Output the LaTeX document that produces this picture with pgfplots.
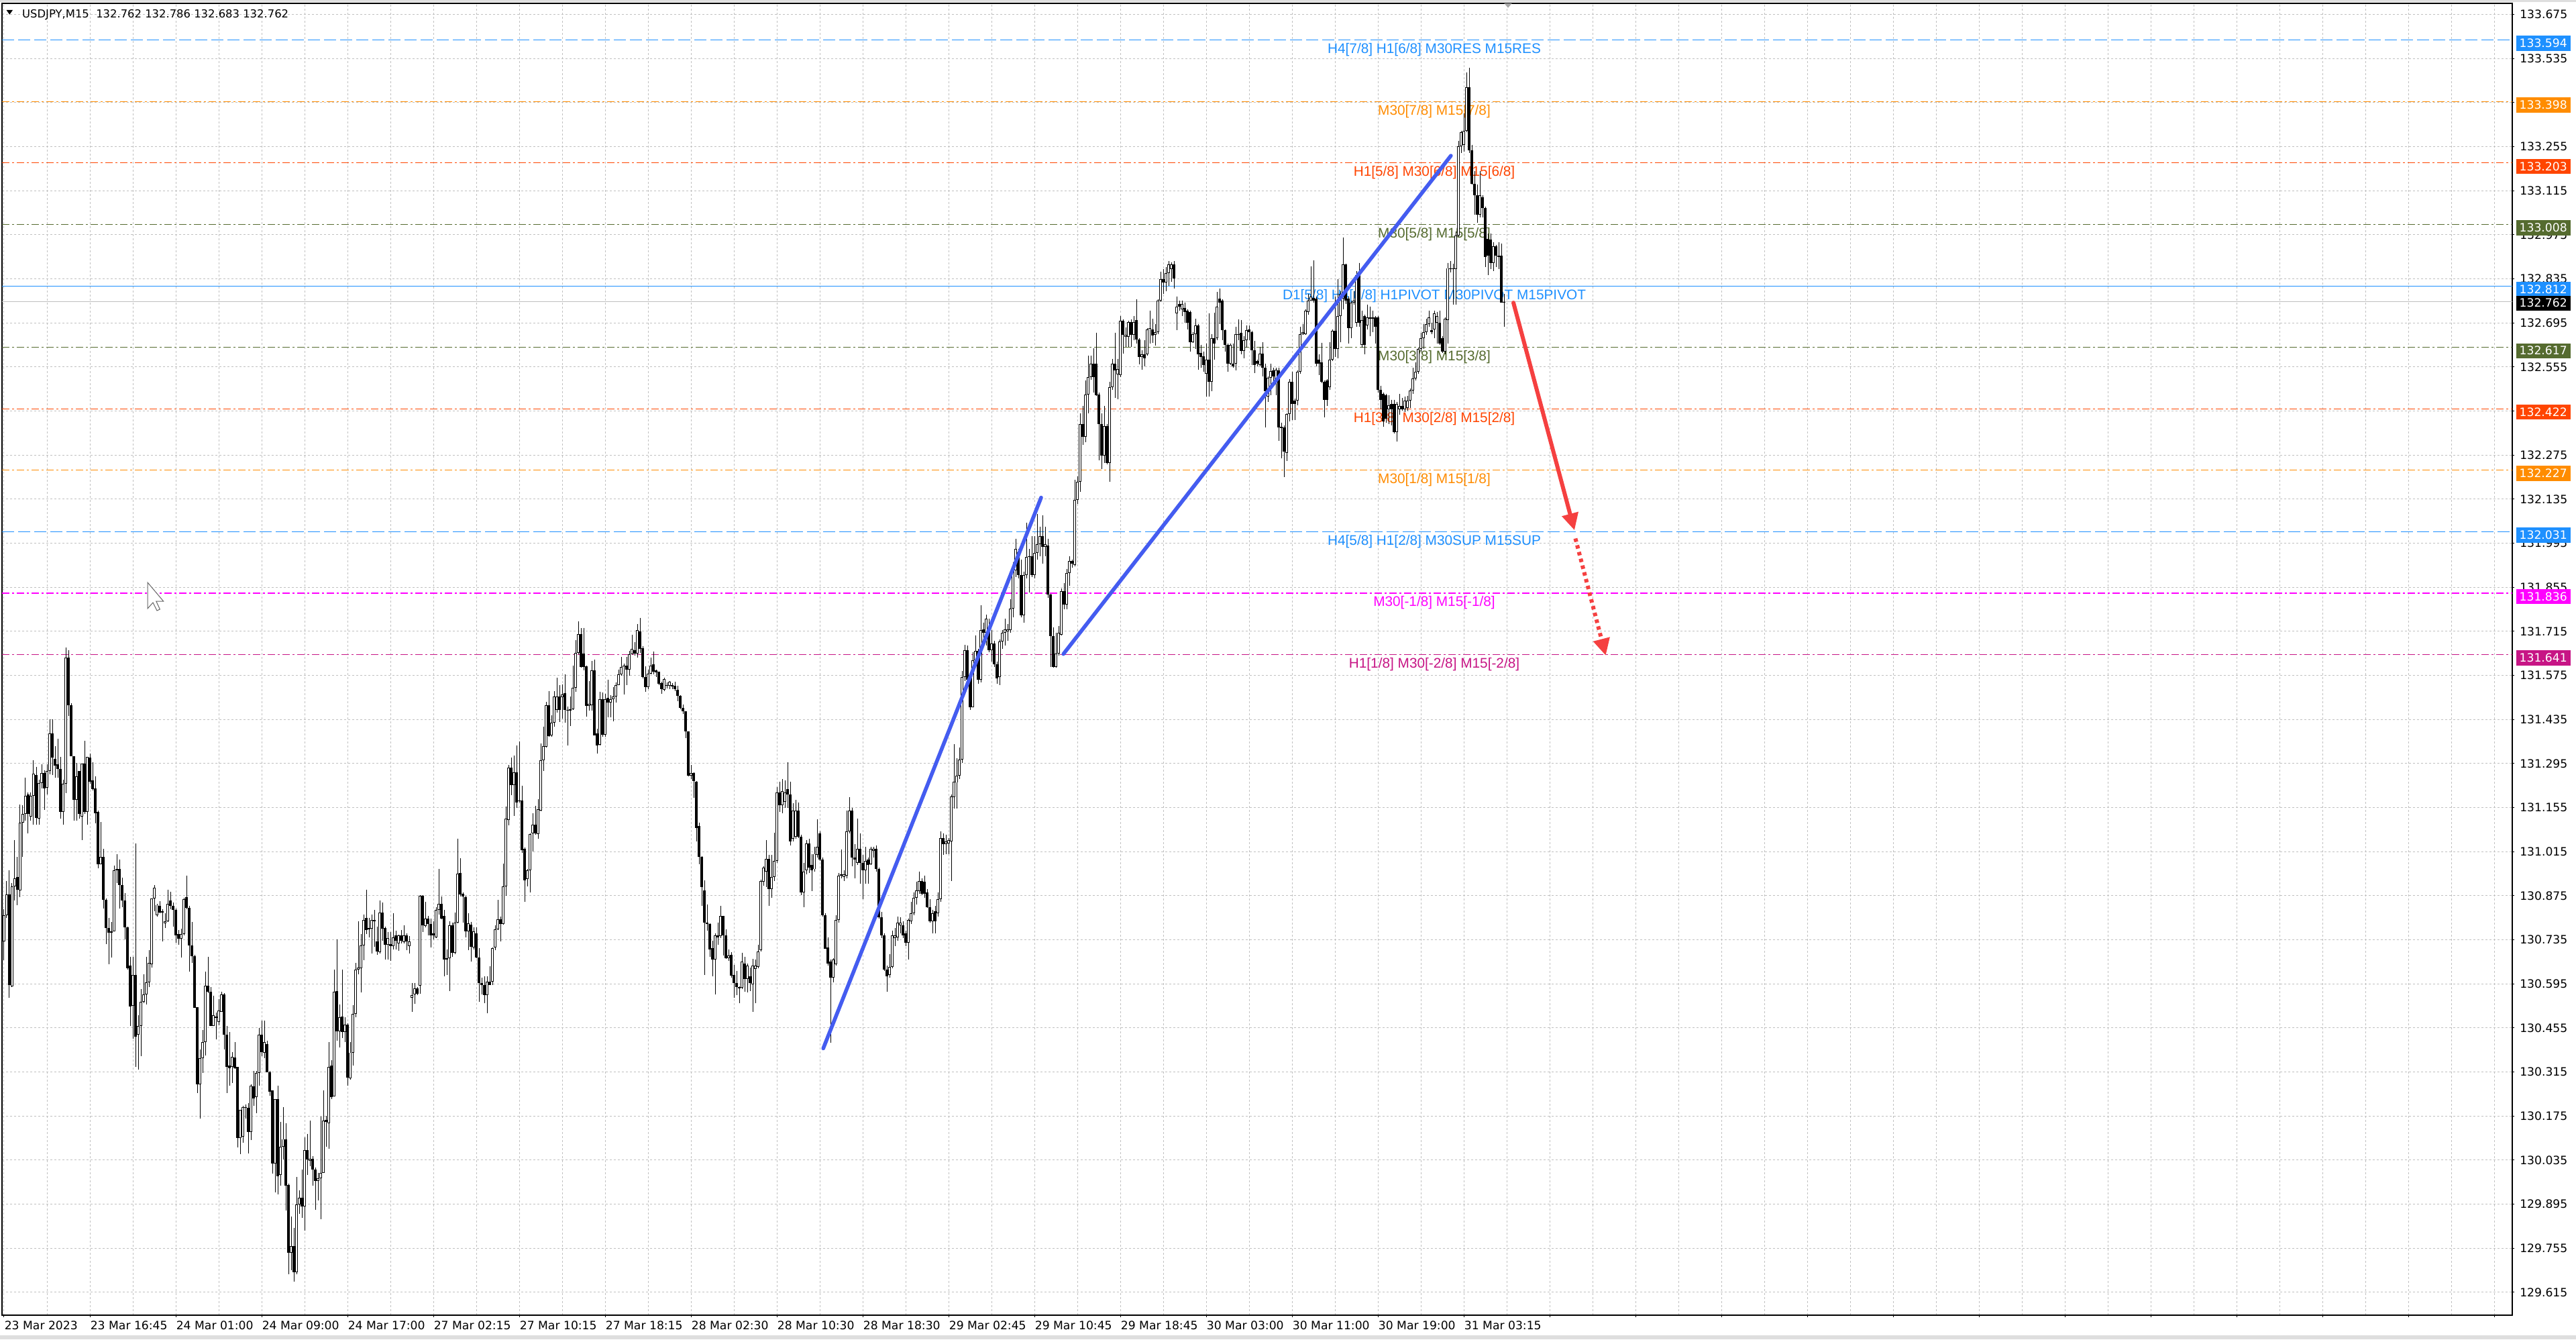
\documentclass[border=0pt]{standalone}
\usepackage{fontspec}
\usepackage{pgfplots}
\usepackage{pgfplotstable}
\pgfplotsset{compat=1.18}
\usetikzlibrary{arrows.meta}
\newfontfamily\dejavu{DejaVu Sans}
\newfontfamily\libsans{Liberation Sans}
\newcommand\tickf{\dejavu\fontsize{4.3}{5}\selectfont}
\newcommand\hdrf{\dejavu\fontsize{4.1}{5}\selectfont}
\newcommand\lvlf{\libsans\fontsize{5.2}{6}\selectfont}
\definecolor{dblue}{RGB}{30,144,255}
\definecolor{dorange}{RGB}{255,140,0}
\definecolor{ored}{RGB}{255,69,0}
\definecolor{lolive}{RGB}{85,107,47}
\definecolor{magen}{RGB}{255,0,255}
\definecolor{mvred}{RGB}{199,21,133}
\definecolor{gridgray}{RGB}{192,192,192}
\definecolor{trendblue}{RGB}{68,92,240}
\definecolor{arrowred}{RGB}{245,64,64}
\definecolor{bandgray}{RGB}{222,222,222}

\pgfplotstableread{
x o h l c
0 130.729 130.832 130.670 130.812
1 130.812 130.921 130.805 130.880
2 130.880 130.956 130.551 130.592
3 130.588 130.915 130.585 130.905
4 130.905 131.052 130.860 130.931
5 130.934 130.998 130.846 130.894
6 130.891 131.164 130.871 131.107
7 131.107 131.162 130.998 131.134
8 131.134 131.251 131.114 131.193
9 131.196 131.203 131.072 131.134
10 131.127 131.203 131.114 131.192
11 131.193 131.306 131.100 131.262
12 131.258 131.285 131.100 131.123
13 131.120 131.244 131.100 131.233
14 131.233 131.292 131.216 131.265
15 131.265 131.274 131.148 131.216
16 131.219 131.292 131.196 131.271
17 131.271 131.436 131.260 131.391
18 131.391 131.436 131.258 131.313
19 131.310 131.350 131.251 131.289
20 131.292 131.374 131.251 131.278
21 131.278 131.315 131.120 131.141
22 131.141 131.244 131.100 131.230
23 131.230 131.663 131.200 131.631
24 131.631 131.656 131.447 131.480
25 131.480 131.487 131.319 131.319
26 131.319 131.319 131.114 131.179
27 131.179 131.296 131.114 131.255
28 131.271 131.271 131.120 131.134
29 131.127 131.295 131.052 131.295
30 131.295 131.367 131.134 131.141
31 131.141 131.315 131.100 131.315
32 131.313 131.326 131.230 131.237
33 131.241 131.299 131.210 131.214
34 131.216 131.255 131.104 131.138
35 131.141 131.145 130.963 130.976
36 130.976 131.109 130.975 130.998
37 130.998 131.024 130.835 130.862
38 130.862 130.867 130.722 130.773
39 130.773 130.805 130.657 130.758
40 130.757 130.791 130.678 130.761
41 130.761 130.970 130.761 130.956
42 130.959 131.007 130.915 130.956
43 130.959 130.990 130.835 130.909
44 130.909 130.932 130.839 130.860
45 130.860 130.884 130.736 130.775
46 130.775 130.777 130.640 130.644
47 130.654 130.681 130.462 130.523
48 130.526 130.681 130.420 130.624
49 130.624 131.041 130.331 130.427
50 130.434 130.496 130.322 130.462
51 130.462 130.578 130.366 130.537
52 130.537 130.626 130.533 130.561
53 130.561 130.681 130.530 130.599
54 130.599 130.702 130.585 130.661
55 130.658 130.867 130.647 130.867
56 130.867 130.908 130.825 130.901
57 130.812 130.849 130.808 130.846
58 130.843 130.857 130.819 130.821
59 130.825 130.832 130.729 130.821
60 130.788 130.819 130.773 130.794
61 130.794 130.894 130.791 130.849
62 130.860 130.887 130.832 130.843
63 130.843 130.853 130.777 130.830
64 130.830 130.835 130.725 130.750
65 130.753 130.766 130.720 130.739
66 130.739 130.770 130.678 130.753
67 130.753 130.869 130.750 130.864
68 130.871 130.939 130.832 130.836
69 130.836 130.843 130.633 130.716
70 130.716 130.791 130.661 130.684
71 130.684 130.688 130.519 130.519
72 130.521 130.521 130.249 130.276
73 130.276 130.386 130.167 130.359
74 130.359 130.448 130.311 130.410
75 130.410 130.633 130.368 130.589
76 130.589 130.681 130.565 130.569
77 130.569 130.585 130.462 130.462
78 130.462 130.558 130.462 130.496
79 130.492 130.503 130.418 130.486
80 130.475 130.547 130.464 130.510
81 130.507 130.569 130.506 130.561
82 130.561 130.565 130.386 130.434
83 130.434 130.462 130.249 130.331
84 130.335 130.441 130.272 130.327
85 130.331 130.379 130.280 130.363
86 130.361 130.410 130.324 130.327
87 130.331 130.331 130.075 130.105
88 130.105 130.194 130.054 130.194
89 130.110 130.208 130.091 130.204
90 130.201 130.212 130.167 130.204
91 130.201 130.217 130.057 130.125
92 130.125 130.276 130.098 130.272
93 130.270 130.318 130.208 130.231
94 130.235 130.318 130.185 130.311
95 130.311 130.455 130.272 130.434
96 130.434 130.478 130.366 130.379
97 130.377 130.478 130.359 130.410
98 130.404 130.414 130.315 130.315
99 130.315 130.318 130.239 130.253
100 130.256 130.256 129.992 130.025
101 130.025 130.228 129.933 130.228
102 130.228 130.272 129.926 129.984
103 129.988 130.157 129.954 130.078
104 130.078 130.204 130.036 130.102
105 130.102 130.153 129.874 129.954
106 129.957 129.961 129.673 129.741
107 129.741 129.855 129.686 129.762
108 129.762 129.820 129.650 129.679
109 129.679 129.981 129.673 129.895
110 129.895 129.940 129.865 129.916
111 129.916 130.006 129.851 129.888
112 129.888 130.108 129.810 130.067
113 130.067 130.119 129.988 130.036
114 130.033 130.160 130.016 130.039
115 130.039 130.047 129.954 130.006
116 130.006 130.012 129.878 129.968
117 129.968 129.995 129.906 129.977
118 129.977 130.174 129.847 129.995
119 129.995 130.256 129.995 130.160
120 130.163 130.176 130.078 130.157
121 130.153 130.410 130.071 130.331
122 130.335 130.352 130.228 130.235
123 130.238 130.640 130.238 130.569
124 130.572 130.736 130.414 130.444
125 130.444 130.530 130.393 130.489
126 130.492 130.640 130.423 130.441
127 130.441 130.489 130.410 130.465
128 130.465 130.469 130.272 130.297
129 130.294 130.410 130.290 130.377
130 130.377 130.528 130.335 130.500
131 130.500 130.661 130.489 130.640
132 130.640 130.794 130.626 130.647
133 130.644 130.753 130.567 130.716
134 130.716 130.816 130.670 130.798
135 130.805 130.894 130.753 130.766
136 130.773 130.805 130.743 130.768
137 130.770 130.816 130.692 130.798
138 130.794 130.830 130.712 130.798
139 130.729 130.777 130.688 130.698
140 130.695 130.860 130.692 130.821
141 130.821 130.853 130.733 130.770
142 130.772 130.777 130.672 130.720
143 130.719 130.759 130.672 130.740
144 130.722 130.759 130.668 130.715
145 130.715 130.820 130.705 130.742
146 130.750 130.763 130.705 130.733
147 130.724 130.752 130.700 130.750
148 130.750 130.766 130.724 130.733
149 130.728 130.781 130.724 130.750
150 130.750 130.755 130.702 130.729
151 130.715 130.746 130.691 130.729
152 130.550 130.598 130.507 130.559
153 130.561 130.598 130.531 130.581
154 130.581 130.585 130.559 130.564
155 130.589 130.876 130.564 130.874
156 130.874 130.876 130.759 130.781
157 130.778 130.855 130.775 130.803
158 130.803 130.811 130.749 130.785
159 130.785 130.803 130.711 130.750
160 130.755 130.794 130.737 130.749
161 130.743 130.839 130.740 130.829
162 130.829 130.961 130.816 130.850
163 130.850 130.872 130.801 130.803
164 130.811 130.829 130.618 130.672
165 130.672 130.705 130.624 130.676
166 130.676 130.794 130.572 130.781
167 130.781 130.790 130.681 130.694
168 130.694 130.822 130.689 130.790
169 130.790 131.057 130.787 130.946
170 130.948 130.994 130.872 130.879
171 130.881 130.885 130.790 130.872
172 130.870 130.874 130.742 130.761
173 130.761 130.820 130.702 130.787
174 130.783 130.792 130.665 130.713
175 130.711 130.775 130.705 130.761
176 130.755 130.775 130.676 130.679
177 130.679 130.709 130.537 130.598
178 130.598 130.615 130.561 130.591
179 130.592 130.618 130.534 130.559
180 130.559 130.618 130.502 130.601
181 130.602 130.650 130.592 130.592
182 130.602 130.711 130.592 130.709
183 130.711 130.781 130.702 130.768
184 130.768 130.862 130.766 130.801
185 130.801 130.809 130.729 130.785
186 130.785 130.977 130.783 130.905
187 130.905 131.159 130.874 131.120
188 131.116 131.290 131.098 131.281
189 131.281 131.314 131.194 131.227
190 131.227 131.320 131.129 131.268
191 131.268 131.353 131.155 131.172
192 131.178 131.366 131.172 131.177
193 131.177 131.224 131.011 131.020
194 131.024 131.029 130.855 130.924
195 130.929 130.959 130.905 130.955
196 130.955 131.074 130.885 131.070
197 131.072 131.137 131.016 131.100
198 131.100 131.161 131.068 131.074
199 131.070 131.181 131.057 131.149
200 131.146 131.358 131.144 131.305
201 131.305 131.413 131.271 131.351
202 131.349 131.490 131.346 131.481
203 131.481 131.526 131.381 131.383
204 131.384 131.448 131.381 131.425
205 131.425 131.525 131.412 131.507
206 131.465 131.568 131.457 131.507
207 131.507 131.544 131.427 131.465
208 131.505 131.546 131.438 131.514
209 131.518 131.579 131.425 131.465
210 131.466 131.477 131.352 131.464
211 131.464 131.507 131.415 131.468
212 131.468 131.607 131.465 131.535
213 131.535 131.686 131.523 131.646
214 131.646 131.746 131.642 131.707
215 131.707 131.725 131.599 131.601
216 131.645 131.726 131.590 131.601
217 131.603 131.607 131.445 131.479
218 131.479 131.558 131.464 131.485
219 131.481 131.620 131.464 131.590
220 131.590 131.625 131.384 131.385
221 131.390 131.405 131.326 131.352
222 131.355 131.523 131.352 131.499
223 131.499 131.520 131.381 131.387
224 131.387 131.516 131.381 131.499
225 131.503 131.561 131.442 131.488
226 131.488 131.512 131.442 131.500
227 131.499 131.538 131.429 131.507
228 131.507 131.552 131.488 131.545
229 131.545 131.594 131.544 131.579
230 131.579 131.633 131.575 131.601
231 131.601 131.612 131.514 131.607
232 131.607 131.633 131.544 131.594
233 131.594 131.653 131.575 131.642
234 131.642 131.703 131.642 131.659
235 131.655 131.681 131.638 131.645
236 131.645 131.738 131.631 131.718
237 131.714 131.758 131.646 131.659
238 131.662 131.668 131.566 131.570
239 131.570 131.603 131.523 131.538
240 131.538 131.594 131.532 131.581
241 131.581 131.631 131.579 131.607
242 131.610 131.651 131.579 131.586
243 131.590 131.594 131.570 131.584
244 131.586 131.587 131.544 131.549
245 131.551 131.555 131.516 131.532
246 131.529 131.568 131.526 131.564
247 131.542 131.552 131.533 131.544
248 131.542 131.558 131.532 131.555
249 131.545 131.551 131.532 131.540
250 131.542 131.555 131.526 131.532
251 131.529 131.542 131.494 131.509
252 131.509 131.512 131.468 131.471
253 131.472 131.483 131.453 131.461
254 131.461 131.461 131.375 131.396
255 131.398 131.398 131.255 131.257
256 131.257 131.290 131.246 131.265
257 131.265 131.268 131.187 131.239
258 131.237 131.239 131.048 131.091
259 131.097 131.107 130.975 130.998
260 130.998 131.001 130.842 130.903
261 130.891 130.924 130.624 130.789
262 130.789 130.848 130.763 130.785
263 130.785 130.787 130.681 130.705
264 130.709 130.731 130.618 130.672
265 130.672 130.755 130.561 130.750
266 130.750 130.790 130.720 130.743
267 130.746 130.842 130.740 130.811
268 130.811 130.811 130.685 130.749
269 130.750 130.769 130.674 130.676
270 130.676 130.705 130.668 130.685
271 130.688 130.696 130.615 130.622
272 130.624 130.656 130.550 130.598
273 130.598 130.635 130.559 130.585
274 130.585 130.587 130.533 130.581
275 130.583 130.694 130.578 130.665
276 130.659 130.681 130.569 130.611
277 130.611 130.659 130.568 130.653
278 130.620 130.646 130.572 130.598
279 130.594 130.674 130.507 130.653
280 130.642 130.672 130.533 130.653
281 130.649 130.720 130.644 130.698
282 130.702 130.926 130.698 130.922
283 130.919 130.969 130.906 130.964
284 130.952 131.052 130.902 130.992
285 130.992 131.005 130.843 130.897
286 130.897 131.005 130.869 130.935
287 130.935 131.075 130.922 130.985
288 130.985 131.221 130.980 131.204
289 131.204 131.237 131.141 131.163
290 131.163 131.246 131.138 131.208
291 131.174 131.241 131.154 131.204
292 131.213 131.300 131.154 131.196
293 131.196 131.237 131.035 131.047
294 131.055 131.168 131.047 131.146
295 131.063 131.179 131.055 131.146
296 131.146 131.171 131.058 131.063
297 131.063 131.068 130.876 130.886
298 130.886 130.980 130.839 130.952
299 130.955 131.052 130.942 131.042
300 131.042 131.055 130.947 130.964
301 130.972 131.008 130.889 130.955
302 130.959 131.030 130.952 131.008
303 131.005 131.118 130.997 131.030
304 131.072 131.080 130.985 130.989
305 130.989 130.997 130.809 130.814
306 130.814 130.819 130.707 130.707
307 130.710 130.743 130.653 130.660
308 130.665 130.673 130.408 130.615
309 130.615 130.677 130.599 130.673
310 130.657 130.814 130.653 130.798
311 130.798 130.947 130.789 130.939
312 130.939 131.022 130.930 130.942
313 130.935 130.955 130.922 130.942
314 130.939 131.146 130.930 131.080
315 131.080 131.188 131.072 131.146
316 131.146 131.154 130.969 130.997
317 130.997 131.038 130.930 130.989
318 130.980 131.121 130.972 131.025
319 131.025 131.072 130.914 130.980
320 130.980 131.005 130.864 130.955
321 130.955 131.030 130.914 130.985
322 130.989 130.997 130.914 130.972
323 130.975 131.030 130.972 131.025
324 131.018 131.030 130.997 131.025
325 131.025 131.035 130.952 130.959
326 130.959 130.964 130.803 130.806
327 130.806 130.823 130.740 130.748
328 130.748 130.756 130.637 130.640
329 130.640 130.653 130.571 130.620
330 130.624 130.690 130.615 130.649
331 130.649 130.765 130.644 130.748
332 130.740 130.773 130.715 130.748
333 130.743 130.809 130.731 130.789
334 130.781 130.806 130.756 130.789
335 130.781 130.793 130.740 130.748
336 130.756 130.765 130.715 130.726
337 130.726 130.803 130.673 130.798
338 130.793 130.856 130.786 130.819
339 130.819 130.886 130.814 130.869
340 130.869 130.919 130.848 130.892
341 130.889 130.952 130.881 130.922
342 130.922 130.930 130.876 130.881
343 130.919 130.939 130.869 130.881
344 130.886 130.897 130.836 130.839
345 130.839 130.864 130.790 130.793
346 130.793 130.831 130.756 130.819
347 130.826 130.843 130.756 130.793
348 130.819 130.886 130.809 130.864
349 130.864 131.080 130.856 131.058
350 131.058 131.072 131.005 131.038
351 131.038 131.068 131.008 131.047
352 131.042 131.058 131.008 131.052
353 131.047 131.196 130.922 131.191
354 131.188 131.357 131.151 131.237
355 131.234 131.312 131.151 131.257
356 131.257 131.345 131.246 131.307
357 131.307 131.589 131.296 131.569
358 131.569 131.672 131.556 131.655
359 131.655 131.669 131.539 131.561
360 131.566 131.573 131.466 131.473
361 131.473 131.649 131.473 131.622
362 131.622 131.702 131.602 131.652
363 131.652 131.660 131.549 131.561
364 131.561 131.798 131.553 131.718
365 131.722 131.743 131.677 131.710
366 131.710 131.768 131.669 131.755
367 131.722 131.755 131.649 131.655
368 131.655 131.718 131.619 131.677
369 131.677 131.685 131.602 131.611
370 131.611 131.619 131.549 131.566
371 131.569 131.689 131.544 131.682
372 131.682 131.718 131.660 131.710
373 131.710 131.755 131.669 131.722
374 131.715 131.738 131.685 131.722
375 131.719 131.818 131.710 131.788
376 131.788 131.934 131.760 131.909
377 131.909 132.009 131.888 131.976
378 131.967 131.976 131.884 131.893
379 131.893 131.942 131.760 131.765
380 131.765 131.904 131.743 131.893
381 131.893 132.059 131.884 131.951
382 131.951 131.976 131.838 131.954
383 131.954 132.017 131.888 131.893
384 131.893 132.017 131.884 131.964
385 131.964 132.087 131.942 131.992
386 131.992 132.047 131.954 132.017
387 132.017 132.084 131.931 131.984
388 131.984 132.047 131.954 131.992
389 131.987 132.009 131.821 131.831
390 131.831 131.835 131.602 131.699
391 131.699 131.727 131.599 131.602
392 131.602 131.710 131.599 131.644
393 131.644 131.732 131.639 131.710
394 131.705 131.851 131.702 131.843
395 131.843 131.868 131.785 131.801
396 131.801 131.914 131.785 131.901
397 131.901 131.954 131.860 131.938
398 131.938 131.943 131.918 131.931
399 131.926 132.196 131.921 132.133
400 132.133 132.208 132.120 132.191
401 132.191 132.407 132.158 132.374
402 132.374 132.432 132.307 132.332
403 132.332 132.512 132.316 132.468
404 132.468 132.590 132.407 132.523
405 132.523 132.590 132.515 132.565
406 132.565 132.614 132.473 132.523
407 132.565 132.664 132.462 132.465
408 132.468 132.473 132.258 132.374
409 132.374 132.407 132.230 132.274
410 132.274 132.432 132.249 132.366
411 132.366 132.374 132.246 132.249
412 132.249 132.507 132.191 132.490
413 132.490 132.581 132.482 132.565
414 132.565 132.664 132.457 132.545
415 132.531 132.581 132.452 132.548
416 132.528 132.717 132.523 132.701
417 132.701 132.706 132.598 132.656
418 132.651 132.681 132.618 132.656
419 132.651 132.701 132.618 132.697
420 132.697 132.706 132.618 132.656
421 132.656 132.717 132.639 132.697
422 132.704 132.769 132.630 132.643
423 132.643 132.647 132.564 132.586
424 132.586 132.608 132.547 132.595
425 132.595 132.640 132.556 132.582
426 132.595 132.678 132.591 132.673
427 132.673 132.734 132.630 132.678
428 132.675 132.708 132.632 132.654
429 132.656 132.691 132.623 132.666
430 132.666 132.769 132.660 132.765
431 132.765 132.858 132.762 132.834
432 132.834 132.865 132.788 132.823
433 132.823 132.872 132.795 132.852
434 132.852 132.891 132.813 132.880
435 132.865 132.887 132.826 132.880
436 132.880 132.891 132.804 132.837
437 132.726 132.779 132.672 132.747
438 132.756 132.765 132.734 132.747
439 132.739 132.765 132.717 132.756
440 132.743 132.760 132.695 132.730
441 132.734 132.739 132.673 132.695
442 132.730 132.734 132.604 132.634
443 132.634 132.665 132.632 132.660
444 132.660 132.708 132.612 132.686
445 132.686 132.691 132.547 132.595
446 132.599 132.625 132.552 132.586
447 132.588 132.604 132.539 132.560
448 132.534 132.630 132.460 132.578
449 132.578 132.726 132.460 132.508
450 132.508 132.660 132.478 132.647
451 132.647 132.727 132.578 132.630
452 132.647 132.793 132.639 132.747
453 132.773 132.804 132.691 132.759
454 132.765 132.769 132.639 132.672
455 132.672 132.673 132.604 132.625
456 132.625 132.630 132.539 132.565
457 132.565 132.630 132.560 132.625
458 132.565 132.630 132.552 132.556
459 132.565 132.682 132.543 132.660
460 132.656 132.706 132.639 132.660
461 132.663 132.704 132.595 132.605
462 132.605 132.652 132.582 132.640
463 132.639 132.687 132.617 132.672
464 132.673 132.687 132.639 132.665
465 132.666 132.669 132.560 132.608
466 132.608 132.637 132.536 132.562
467 132.573 132.578 132.556 132.565
468 132.562 132.619 132.556 132.597
469 132.597 132.634 132.524 132.552
470 132.552 132.565 132.362 132.478
471 132.460 132.525 132.443 132.521
472 132.521 132.565 132.465 132.541
473 132.543 132.552 132.508 132.525
474 132.512 132.552 132.465 132.547
475 132.545 132.552 132.321 132.362
476 132.364 132.378 132.264 132.360
477 132.362 132.369 132.205 132.286
478 132.282 132.408 132.256 132.405
479 132.405 132.517 132.382 132.508
480 132.508 132.539 132.386 132.438
481 132.447 132.454 132.386 132.438
482 132.447 132.543 132.434 132.539
483 132.539 132.682 132.534 132.660
484 132.660 132.691 132.656 132.665
485 132.660 132.739 132.656 132.734
486 132.730 132.786 132.721 132.765
487 132.765 132.875 132.765 132.778
488 132.775 132.893 132.760 132.765
489 132.773 132.778 132.556 132.565
490 132.579 132.595 132.530 132.565
491 132.569 132.632 132.504 132.508
492 132.508 132.512 132.395 132.451
493 132.512 132.517 132.430 132.451
494 132.491 132.634 132.482 132.578
495 132.578 132.673 132.573 132.669
496 132.669 132.778 132.586 132.612
497 132.612 132.834 132.582 132.717
498 132.717 132.795 132.634 132.786
499 132.773 132.967 132.739 132.880
500 132.880 132.882 132.756 132.766
501 132.773 132.778 132.630 132.678
502 132.678 132.765 132.647 132.760
503 132.760 132.795 132.752 132.765
504 132.695 132.860 132.682 132.847
505 132.847 132.886 132.682 132.695
506 132.625 132.734 132.617 132.704
507 132.717 132.721 132.595 132.625
508 132.686 132.752 132.673 132.712
509 132.708 132.747 132.652 132.712
510 132.712 132.734 132.665 132.708
511 132.712 132.717 132.630 132.682
512 132.712 132.717 132.473 132.482
513 132.482 132.495 132.421 132.451
514 132.469 132.473 132.364 132.382
515 132.465 132.469 132.377 132.390
516 132.421 132.466 132.373 132.434
517 132.438 132.451 132.369 132.421
518 132.438 132.451 132.343 132.347
519 132.347 132.443 132.318 132.438
520 132.421 132.469 132.404 132.430
521 132.430 132.456 132.417 132.421
522 132.421 132.460 132.412 132.447
523 132.425 132.464 132.417 132.447
524 132.447 132.486 132.425 132.480
525 132.480 132.552 132.469 132.518
526 132.518 132.569 132.512 132.539
527 132.539 132.617 132.534 132.612
528 132.612 132.663 132.604 132.647
529 132.647 132.691 132.612 132.665
530 132.665 132.708 132.656 132.691
531 132.691 132.734 132.682 132.712
532 132.672 132.695 132.660 132.665
533 132.673 132.734 132.647 132.726
534 132.695 132.730 132.630 132.717
535 132.695 132.734 132.625 132.630
536 132.647 132.652 132.599 132.604
537 132.604 132.712 132.595 132.708
538 132.704 132.886 132.630 132.869
539 132.865 132.891 132.856 132.869
540 132.869 132.882 132.752 132.865
541 132.865 132.986 132.752 132.973
542 132.973 133.274 132.969 133.256
543 133.256 133.304 133.234 133.300
544 133.261 133.361 133.239 133.304
545 133.304 133.491 133.300 133.443
546 133.443 133.505 133.234 133.243
547 133.243 133.261 133.134 133.136
548 133.136 133.178 133.039 133.101
549 133.100 133.134 133.013 133.039
550 133.039 133.178 133.030 133.100
551 133.095 133.100 133.030 133.060
552 133.060 133.065 132.873 132.904
553 132.962 132.978 132.847 132.908
554 132.960 132.978 132.865 132.886
555 132.886 132.952 132.860 132.939
556 132.939 132.943 132.873 132.908
557 132.904 132.952 132.865 132.908
558 132.908 132.947 132.759 132.760
559 132.762 132.786 132.683 132.762
}\candles

\tikzset{
  lvl/.style={font=\lvlf, anchor=north, inner sep=0pt, yshift=-1pt},
  pbox/.style={anchor=west, font=\tickf, text=white, inner xsep=1.2pt, inner ysep=0pt,
    minimum height=5.6pt, text height=3.1pt, text depth=0pt, xshift=1.25pt, yshift=-1.25pt},
  ldash/.style={line width=0.32pt, dash pattern=on 4.5pt off 1.5pt},
  ldashdot/.style={line width=0.32pt, dash pattern=on 2.75pt off 1pt on 0.75pt off 1pt},
}
\pgfplotsset{candle/.style={forget plot, only marks, mark=*, mark size=0pt,
  mark options={draw=none, fill=none},
  error bars/.cd, y dir=minus, y explicit, error mark=none}}

\begin{document}
\begin{tikzpicture}
\useasboundingbox (0,0) rectangle (960pt,499pt);
\fill[white] (0,0) rectangle (960pt,499pt);
\fill[bandgray] (0,498.25pt) rectangle (960pt,499pt);
\fill[bandgray] (0,0) rectangle (960pt,1.5pt);
\begin{axis}[
  at={(0.75pt,9pt)}, anchor=south west,
  scale only axis, width=935.5pt, height=488.75pt,
  xmin=-0.75, xmax=934.75, ymin=129.5424, ymax=133.710,
  clip mode=individual,
  axis line style={black, line width=0.3pt},
  tick align=outside, major tick length=0.8pt, minor tick length=0pt,
  tick style={black, line width=0.25pt},
  xtick pos=bottom, ytick pos=right, yticklabel pos=right,
  xtick={0,32,...,928},
  minor xtick={16,48,...,912},
  xticklabels={23 Mar 2023,23 Mar 16:45,24 Mar 01:00,24 Mar 09:00,24 Mar 17:00,27 Mar 02:15,27 Mar 10:15,27 Mar 18:15,28 Mar 02:30,28 Mar 10:30,28 Mar 18:30,29 Mar 02:45,29 Mar 10:45,29 Mar 18:45,30 Mar 03:00,30 Mar 11:00,30 Mar 19:00,31 Mar 03:15,{},{},{},{},{},{},{},{},{},{},{},{}},
  ytick={129.615,129.755,129.895,130.035,130.175,130.315,130.455,130.595,130.735,130.875,131.015,131.155,131.295,131.435,131.575,131.715,131.855,131.995,132.135,132.275,132.415,132.555,132.695,132.835,132.975,133.115,133.255,133.395,133.535,133.675},
  yticklabels={129.615,129.755,129.895,130.035,130.175,130.315,130.455,130.595,130.735,130.875,131.015,131.155,131.295,131.435,131.575,131.715,131.855,131.995,132.135,132.275,132.415,132.555,132.695,132.835,132.975,133.115,133.255,133.395,133.535,133.675},
  xticklabel style={font=\tickf, anchor=north west, inner sep=0pt, yshift=-1.2pt},
  yticklabel style={font=\tickf, anchor=west, inner sep=0pt, xshift=1.8pt},
  grid=both,
  major grid style={gridgray, line width=0.25pt, dash pattern=on 0.75pt off 0.75pt},
  minor grid style={gridgray, line width=0.25pt, dash pattern=on 0.75pt off 0.75pt},
]
% level lines
\addplot[forget plot, dblue, ldash] coordinates {(-0.75,133.594) (934.75,133.594)};
\addplot[forget plot, dorange, ldashdot] coordinates {(-0.75,133.398) (934.75,133.398)};
\addplot[forget plot, ored, ldashdot] coordinates {(-0.75,133.203) (934.75,133.203)};
\addplot[forget plot, lolive, ldashdot] coordinates {(-0.75,133.008) (934.75,133.008)};
\addplot[forget plot, dblue, line width=0.3pt] coordinates {(-0.75,132.812) (934.75,132.812)};
\addplot[forget plot, gridgray, line width=0.3pt] coordinates {(-0.75,132.762) (934.75,132.762)};
\addplot[forget plot, lolive, ldashdot] coordinates {(-0.75,132.617) (934.75,132.617)};
\addplot[forget plot, ored, ldashdot] coordinates {(-0.75,132.422) (934.75,132.422)};
\addplot[forget plot, dorange, ldashdot] coordinates {(-0.75,132.227) (934.75,132.227)};
\addplot[forget plot, dblue, ldash] coordinates {(-0.75,132.031) (934.75,132.031)};
\addplot[forget plot, magen, ldashdot] coordinates {(-0.75,131.836) (934.75,131.836)};
\addplot[forget plot, mvred, ldashdot] coordinates {(-0.75,131.641) (934.75,131.641)};
% level labels
\node[lvl, text=dblue] at (axis cs:533,133.594) {H4[7/8] H1[6/8] M30RES M15RES};
\node[lvl, text=dorange] at (axis cs:533,133.398) {M30[7/8] M15[7/8]};
\node[lvl, text=ored] at (axis cs:533,133.203) {H1[5/8] M30[6/8] M15[6/8]};
\node[lvl, text=lolive] at (axis cs:533,133.008) {M30[5/8] M15[5/8]};
\node[lvl, text=dblue] at (axis cs:533,132.812) {D1[5/8] H4[6/8] H1PIVOT M30PIVOT M15PIVOT};
\node[lvl, text=lolive] at (axis cs:533,132.617) {M30[3/8] M15[3/8]};
\node[lvl, text=ored] at (axis cs:533,132.422) {H1[3/8] M30[2/8] M15[2/8]};
\node[lvl, text=dorange] at (axis cs:533,132.227) {M30[1/8] M15[1/8]};
\node[lvl, text=dblue] at (axis cs:533,132.031) {H4[5/8] H1[2/8] M30SUP M15SUP};
\node[lvl, text=magen] at (axis cs:533,131.836) {M30[-1/8] M15[-1/8]};
\node[lvl, text=mvred] at (axis cs:533,131.641) {H1[1/8] M30[-2/8] M15[-2/8]};
% candles: wicks
\addplot[candle, error bar style={draw=black, solid, line width=0.25pt}]
  table[x=x, y=h, y error minus expr={\thisrow{h}-\thisrow{l}}] {\candles};
% candles: bodies
\addplot[candle, error bar style={draw=black, solid, line width=0.8pt, line cap=butt}]
  table[x=x, y expr={max(\thisrow{o},\thisrow{c})}, y error minus expr={max(abs(\thisrow{o}-\thisrow{c}),0.0022)}] {\candles};
% candles: hollow (bull) interior
\addplot[candle, error bar style={draw=white, solid, line width=0.3pt, line cap=butt}]
  table[x=x, y expr={\thisrow{c}-0.0021}, y error minus expr={max(\thisrow{c}-\thisrow{o}-0.0042,0)}] {\candles};
% trend lines
\addplot[forget plot, trendblue, line width=1.4pt, line cap=round] coordinates {(305.3,130.390) (386.5,132.140)};
\addplot[forget plot, trendblue, line width=1.4pt, line cap=round] coordinates {(394.8,131.643) (539.2,133.226)};
\addplot[forget plot, arrowred, line width=1.5pt, line cap=round, -{Triangle[width=6pt,length=6.3pt]}] coordinates {(562.5,132.759) (585.25,132.036)};
\addplot[forget plot, arrowred, line width=1.5pt, dash pattern=on 1.3pt off 1.3pt, -{Triangle[width=6pt,length=6.3pt]}] coordinates {(585.6,132.010) (596.9,131.638)};
% right-side price boxes
\node[pbox, fill=dblue] at (axis cs:934.75,133.594) {133.594};
\node[pbox, fill=dorange] at (axis cs:934.75,133.398) {133.398};
\node[pbox, fill=ored] at (axis cs:934.75,133.203) {133.203};
\node[pbox, fill=lolive] at (axis cs:934.75,133.008) {133.008};
\node[pbox, fill=dblue] at (axis cs:934.75,132.812) {132.812};
\node[pbox, fill=black, yshift=0.75pt] at (axis cs:934.75,132.762) {132.762};
\node[pbox, fill=lolive] at (axis cs:934.75,132.617) {132.617};
\node[pbox, fill=ored] at (axis cs:934.75,132.422) {132.422};
\node[pbox, fill=dorange] at (axis cs:934.75,132.227) {132.227};
\node[pbox, fill=dblue] at (axis cs:934.75,132.031) {132.031};
\node[pbox, fill=magen] at (axis cs:934.75,131.836) {131.836};
\node[pbox, fill=mvred] at (axis cs:934.75,131.641) {131.641};
\end{axis}
% header
\fill[black] (2.4pt,495.25pt) -- (4.75pt,495.25pt) -- (3.575pt,493.575pt) -- cycle;
\node[anchor=west, inner sep=0pt, font=\hdrf] at (8.1pt,493.4pt) {USDJPY,M15\ \ 132.762 132.786 132.683 132.762};
% chart shift marker
\fill[gray!70] (560.6pt,497.7pt) -- (563.4pt,497.7pt) -- (562pt,496.1pt) -- cycle;
% mouse cursor
\filldraw[fill=white, draw=gray!80!black, line width=0.25pt] (55pt,282pt) -- (55pt,272.25pt) -- (57pt,274.5pt) -- (58.5pt,271.5pt) -- (59.6pt,272pt) -- (58.2pt,275pt) -- (60.9pt,275pt) -- cycle;
\end{tikzpicture}
\end{document}
